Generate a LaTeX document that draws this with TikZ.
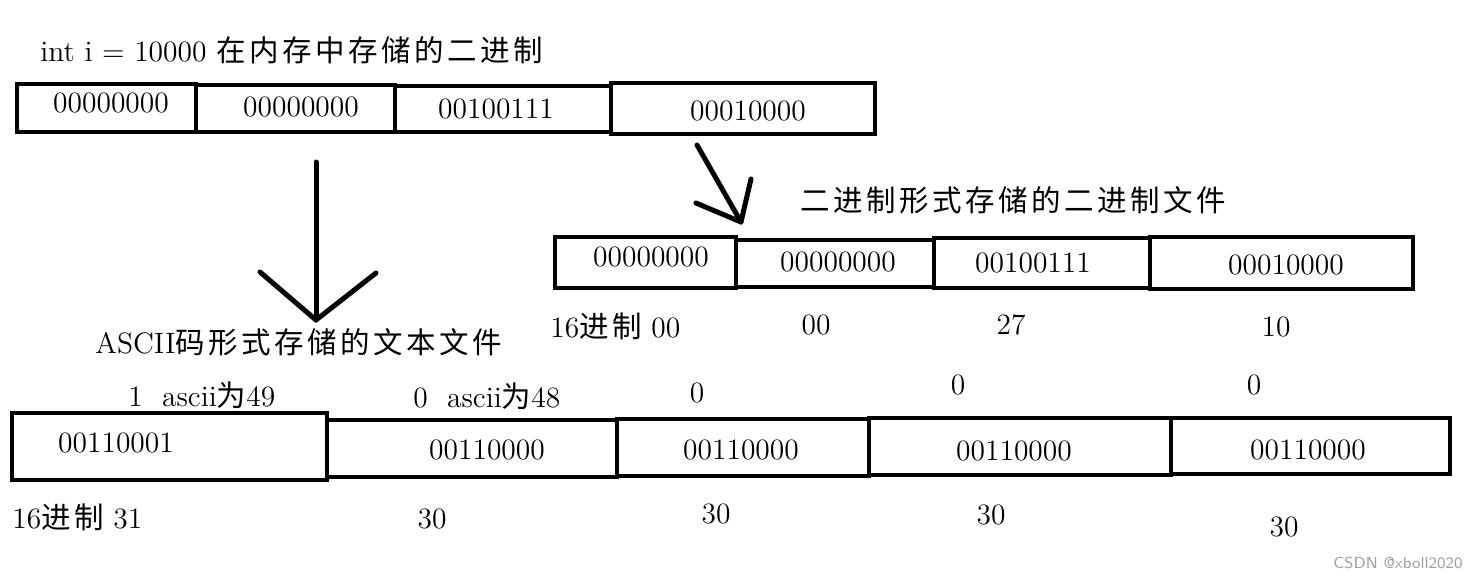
\documentclass[tikz,border=0pt]{standalone}
\usepackage{fontspec}
\newfontfamily\cjk[LetterSpace=12]{Noto Sans CJK SC}
\tikzset{
  cellbox/.style={draw, line width=2.3pt, inner sep=0pt},
  bits/.style={inner sep=0pt, font=\fontsize{14.75}{18}\selectfont},
  note/.style={inner sep=0pt, font=\fontsize{14.75}{18}\selectfont},
  stroke/.style={line width=2.5pt, line cap=round, line join=round},
}
\begin{document}
\begin{tikzpicture}[x=0.5pt,y=-0.5pt]
  \useasboundingbox (0,0) rectangle (1479,579);
  % int i in memory
  \node[note, anchor=west] (memTitle) at (40,50) {int i = 10000 {\cjk 在内存中存储的二进制}};
  \node[cellbox, minimum width=89.5pt, minimum height=24pt] (m1) at (106.5,108) {};
  \node[cellbox, minimum width=99.5pt, minimum height=23.5pt] (m2) at (295.5,108.5) {};
  \node[cellbox, minimum width=108pt, minimum height=23pt] (m3) at (503,109) {};
  \node[cellbox, minimum width=132pt, minimum height=25.5pt] (m4) at (743,108.5) {};
  \node[bits] (m1bits) at (111,103) {00000000};
  \node[bits] (m2bits) at (301,107) {00000000};
  \node[bits] (m3bits) at (496,109) {00100111};
  \node[bits] (m4bits) at (748,111) {00010000};

  % binary file
  \node[note, anchor=west] (binTitle) at (800,200) {\cjk 二进制形式存储的二进制文件};
  \node[cellbox, minimum width=90.5pt, minimum height=25.5pt] (b1) at (645.5,262.5) {};
  \node[cellbox, minimum width=99pt, minimum height=23.5pt] (b2) at (835,263.5) {};
  \node[cellbox, minimum width=108pt, minimum height=25pt] (b3) at (1042,263) {};
  \node[cellbox, minimum width=131.5pt, minimum height=26pt] (b4) at (1281.5,263) {};
  \node[bits] (b1bits) at (651,257) {00000000};
  \node[bits] (b2bits) at (838,262) {00000000};
  \node[bits] (b3bits) at (1033,263) {00100111};
  \node[bits] (b4bits) at (1286,265) {00010000};
  \node[note, anchor=west] (b1hex) at (550,326) {16{\cjk 进制} 00};
  \node[note] (b2hex) at (816,325) {00};
  \node[note] (b3hex) at (1011,325) {27};
  \node[note] (b4hex) at (1276,327) {10};

  % text file
  \node[note, anchor=west] (txtTitle) at (95,342) {ASCII{\cjk 码形式存储的文本文件}};
  \node[note, anchor=west] (a1char) at (128,395) {1\ \ ascii{\cjk 为}49};
  \node[note, anchor=west] (a2char) at (413,396) {0\ \ ascii{\cjk 为}48};
  \node[note] (a3char) at (697,393) {0};
  \node[note] (a4char) at (958,385) {0};
  \node[note] (a5char) at (1254,385) {0};
  \node[cellbox, minimum width=157.5pt, minimum height=33.5pt] (a1) at (169.5,446.5) {};
  \node[cellbox, minimum width=145pt, minimum height=28.5pt] (a2) at (472,448.5) {};
  \node[cellbox, minimum width=126pt, minimum height=28.5pt] (a3) at (743,447.5) {};
  \node[cellbox, minimum width=151pt, minimum height=28.5pt] (a4) at (1020,446.5) {};
  \node[cellbox, minimum width=139.5pt, minimum height=28pt] (a5) at (1310.5,446) {};
  \node[bits] (a1bits) at (116,443) {00110001};
  \node[bits] (a2bits) at (487,450) {00110000};
  \node[bits] (a3bits) at (741,450) {00110000};
  \node[bits] (a4bits) at (1014,451) {00110000};
  \node[bits] (a5bits) at (1308,450) {00110000};
  \node[note, anchor=west] (a1hex) at (12,517) {16{\cjk 进制} 31};
  \node[note] (a2hex) at (432,519) {30};
  \node[note] (a3hex) at (716,514) {30};
  \node[note] (a4hex) at (991,515) {30};
  \node[note] (a5hex) at (1284,527) {30};

  % hand drawn arrows
  \coordinate (dropTop) at (316,162);
  \coordinate (dropTip) at (316,320);
  \coordinate (dropL) at (260,272);
  \coordinate (dropR) at (376,273);
  \draw[stroke] (dropTop) -- (dropTip);
  \draw[stroke] (dropL) -- (dropTip) -- (dropR);
  \coordinate (slantTop) at (697,145);
  \coordinate (slantTip) at (741,222);
  \coordinate (slantL) at (696,203);
  \coordinate (slantR) at (751,179);
  \draw[stroke] (slantTop) -- (slantTip);
  \draw[stroke] (slantL) -- (slantTip) -- (slantR);

  \node[inner sep=0pt, anchor=east, text=gray!75, font=\sffamily\fontsize{8}{9}\selectfont] (mark) at (1463,563) {CSDN @xboll2020};
\end{tikzpicture}
\end{document}
